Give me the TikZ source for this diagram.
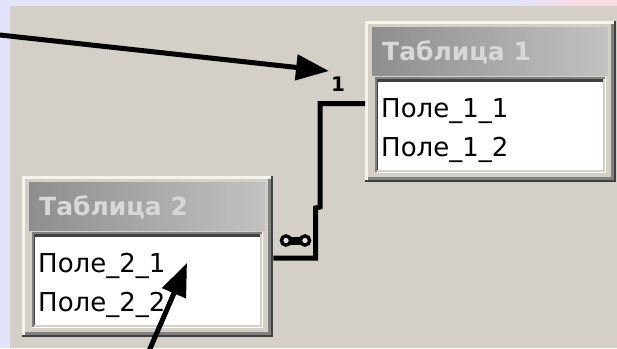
\documentclass[tikz,border=0pt]{standalone}
\usepackage{fontspec}
\setmainfont{DejaVu Sans}
\usetikzlibrary{arrows.meta,calc}
\definecolor{lav}{HTML}{E3E3FB}
\definecolor{pinkish}{HTML}{F9DDE3}
\definecolor{panel}{HTML}{D4D0C8}
\definecolor{hilite}{HTML}{F4F3EE}
\definecolor{shadowc}{HTML}{404040}
\definecolor{midgray}{HTML}{808080}
\definecolor{titleL}{HTML}{8E8E8E}
\definecolor{titleR}{HTML}{C2C2C2}
\definecolor{titletext}{HTML}{D8D8D8}
\definecolor{holecol}{HTML}{E6E4DE}
\newcommand\acctable[6]{%
  \node[tframe] (#1) at (#2,#3) {};
  \fill[shadowc] (#2,#3) rectangle (#2+251,#3+161);
  \fill[hilite] (#2,#3) rectangle (#2+248.5,#3+158.5);
  \fill[midgray] (#2+2.5,#3+2.5) rectangle (#2+248.5,#3+158.5);
  \fill[panel] (#2+2.5,#3+2.5) rectangle (#2+246,#3+156);
  \shade[left color=titleL, right color=titleR] (#2+7,#3+6.5) rectangle (#2+243,#3+54);
  \node[ttext] (#1-title) at (#2+17,#3+39.5) {#4};
  \fill[white] (#2+10,#3+56) rectangle (#2+241,#3+152);
  \fill[midgray] (#2+10,#3+56) rectangle (#2+239.5,#3+150.5);
  \fill[panel] (#2+11.5,#3+57.5) rectangle (#2+239.5,#3+150.5);
  \fill[shadowc] (#2+11.5,#3+57.5) rectangle (#2+238,#3+149);
  \fill[white] (#2+13,#3+61) rectangle (#2+238,#3+149);
  \node[ftext] (#1-f1) at (#2+16,#3+96) {#5};
  \node[ftext] (#1-f2) at (#2+16,#3+135) {#6};
}
\begin{document}
\begin{tikzpicture}[x=1pt,y=-1pt,
  tframe/.style={draw=none, inner sep=0pt, minimum width=251pt, minimum height=161pt, anchor=north west},
  ttext/.style={anchor=base west, inner sep=0pt, text=titletext, font=\bfseries\fontsize{25}{25}\selectfont},
  ftext/.style={anchor=base west, inner sep=0pt, text=black, font=\fontsize{26}{26}\selectfont},
  relline/.style={line width=5pt, black, line join=miter},
  bigarrow/.style={line width=5pt, black, -{Triangle[length=33pt,width=25pt]}},
  onelabel/.style={inner sep=0pt, font=\bfseries\fontsize{20}{20}\selectfont}
]
\useasboundingbox (0,0) rectangle (617,348);
\clip (0,0) rectangle (617,348);
% background
\fill[lav] (0,0) rectangle (617,348);
\shade[left color=lav, right color=pinkish] (515,0) rectangle (578,6);
\fill[pinkish] (578,0) rectangle (617,6);
\fill[panel] (10,6) rectangle (617,348);
% tables
\acctable{t1}{365}{21}{Таблица 1}{Поле\_1\_1}{Поле\_1\_2}
\acctable{t2}{22}{176}{Таблица 2}{Поле\_2\_1}{Поле\_2\_2}
% relationship line
\draw[relline] ($(t1.north west)+(0,82.5)$) -- ++(-45,0) -- ++(0,103.5) -- ++(-4.5,1) -- ++(0,50) -- ($(t2.north east)+(0,82)$);
% one label
\node[onelabel] (one) at (338,84) {1};
% infinity mark
\fill[black] (288,236.5) rectangle (303,244.5);
\draw[black, line width=3.4pt, fill=holecol] (286,240.5) circle (4.6);
\draw[black, line width=3.4pt, fill=holecol] (305,240.5) circle (4.6);
% pointer arrows
\coordinate (a1s) at (-2,34.8);
\coordinate (a1t) at (329,71);
\draw[bigarrow] (a1s) -- (a1t);
\coordinate (a2s) at (146,358);
\coordinate (a2t) at (187,263);
\draw[bigarrow] (a2s) -- (a2t);
\end{tikzpicture}
\end{document}
